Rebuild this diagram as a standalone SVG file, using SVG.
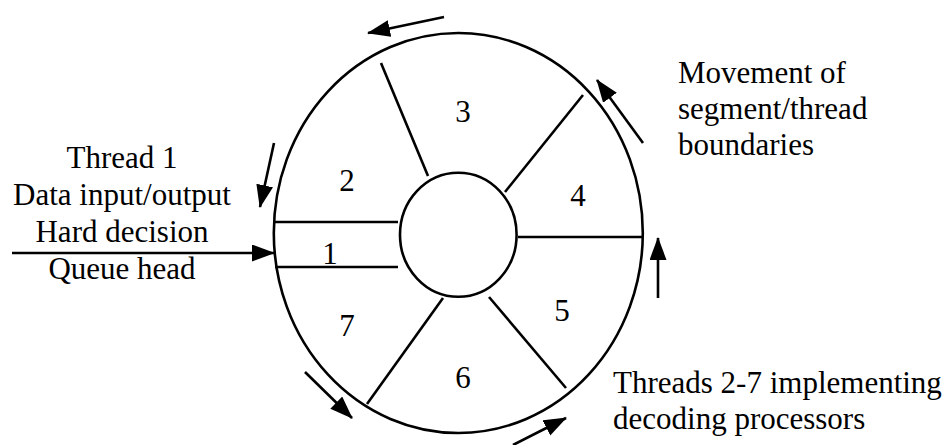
<svg xmlns="http://www.w3.org/2000/svg" width="948" height="445" viewBox="0 0 948 445">
<style>
.ln{stroke:#000;stroke-width:2.6;fill:none}
.ar{stroke:#000;stroke-width:2.6;fill:none;marker-end:url(#ah)}
text{font-family:"Liberation Serif","Times New Roman",serif;font-size:31px;fill:#000}
.c{text-anchor:middle}
</style>
<defs>
<marker id="ah" markerUnits="userSpaceOnUse" markerWidth="25" markerHeight="18" refX="22" refY="8.5" orient="auto">
<path d="M0,0 L23,8.5 L0,17 z" fill="#000"/>
</marker>
</defs>
<rect width="948" height="445" fill="#fff"/>
<g id="ring">
<ellipse class="ln" cx="458.3" cy="233" rx="184.5" ry="200"/>
<ellipse class="ln" cx="458.3" cy="234.7" rx="58.3" ry="62"/>
</g>
<g id="boundaries">
<line class="ln" x1="275" y1="222" x2="398" y2="222"/>
<line class="ln" x1="275" y1="267" x2="398" y2="267"/>
<line class="ln" x1="518" y1="237" x2="642" y2="237"/>
<line class="ln" x1="381" y1="63" x2="428" y2="176"/>
<line class="ln" x1="583" y1="95" x2="505" y2="192"/>
<line class="ln" x1="489" y1="297" x2="566" y2="388"/>
<line class="ln" x1="443" y1="298" x2="367" y2="404"/>
</g>
<g id="seg1"><text class="c" x="330" y="264">1</text></g>
<g id="seg2"><text class="c" x="347" y="191">2</text></g>
<g id="seg3"><text class="c" x="463" y="122">3</text></g>
<g id="seg4"><text class="c" x="578" y="206">4</text></g>
<g id="seg5"><text class="c" x="562" y="321">5</text></g>
<g id="seg6"><text class="c" x="463" y="388">6</text></g>
<g id="seg7"><text class="c" x="347" y="336">7</text></g>
<g id="label-thread1">
<text class="c" x="122" y="168">Thread 1</text>
<text class="c" x="122" y="205">Data input/output</text>
<text class="c" x="122" y="242">Hard decision</text>
<text class="c" x="122" y="279">Queue head</text>
</g>
<g id="label-movement">
<text x="678" y="83">Movement of</text>
<text x="678" y="119">segment/thread</text>
<text x="678" y="155">boundaries</text>
</g>
<g id="label-threads">
<text x="613" y="393">Threads 2-7 implementing</text>
<text x="613" y="429">decoding processors</text>
</g>
<g id="connectors">
<line class="ar" x1="12" y1="253" x2="274" y2="253"/>
<line class="ar" x1="444" y1="17" x2="368" y2="33"/>
<line class="ar" x1="643" y1="143" x2="597" y2="80"/>
<line class="ar" x1="658" y1="298" x2="658" y2="238"/>
<line class="ar" x1="274" y1="143" x2="260" y2="207"/>
<line class="ar" x1="305" y1="372" x2="352" y2="418"/>
<line class="ar" x1="513" y1="445" x2="566" y2="418"/>
</g>
</svg>
